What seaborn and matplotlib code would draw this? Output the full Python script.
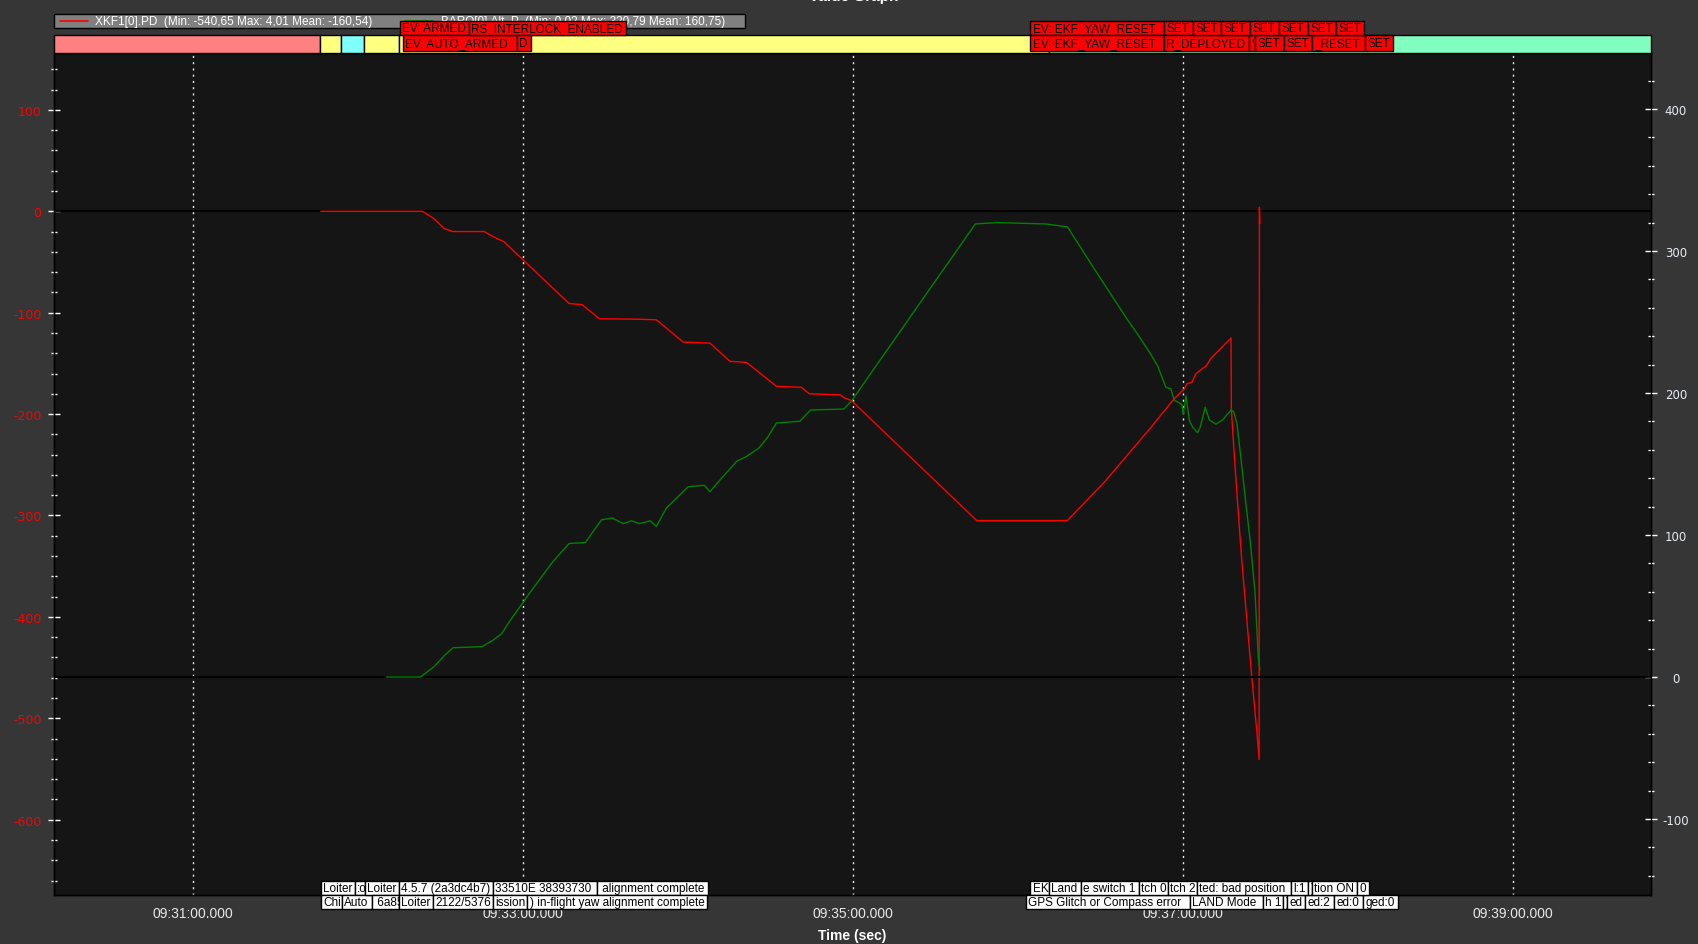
import numpy as np
import pandas as pd
import matplotlib
matplotlib.use("Agg")
import matplotlib.pyplot as plt
import matplotlib.transforms as mtransforms
from matplotlib.patches import Rectangle
from matplotlib.ticker import FixedLocator, MultipleLocator, FuncFormatter
import seaborn as sns

# ---------------- data (time in seconds after 09:30:00) ----------------
red_t = [106.5, 143.5, 147.5, 151.4, 154.6, 166.0, 169.2, 173.1, 196.8, 201.5,
         207.8, 222.5, 228.5, 238.3, 248.0, 255.3, 261.3, 272.2, 281.3, 284.1,
         295.3, 296.7, 299.5, 345.0, 378.0, 391.8, 408.4, 416.8, 420.5, 421.5,
         423.2, 424.7, 426.3, 428.4, 430.2, 437.5, 437.6, 438.1, 439.6, 441.3,
         443.3, 445.0, 446.9, 447.7, 447.8, 448.0]
red_v = [0, 0, -7, -17, -20, -20, -25, -30, -91, -92,
         -106, -106.5, -107, -129, -130, -148, -149, -172.6, -173.6, -180,
         -181, -183.7, -186.8, -305, -305, -266, -213, -185, -175, -170,
         -169, -160.4, -156.7, -152.7, -145, -125, -194, -217, -277, -341,
         -405, -458, -514, -540.6, 4.0, -12]

grn_t = [130.5, 142.7, 147.5, 151.4, 154.6, 165.2, 169.2, 172.3, 175.1, 182.9,
         190.8, 196.8, 202.7, 208.6, 212.5, 216.5, 219.5, 222.4, 226.3, 228.5,
         232.2, 240.1, 246.0, 248.0, 250.7, 257.8, 261.0, 265.7, 269.0, 272.2,
         280.7, 284.6, 296.7, 299.5, 324.4, 344.5, 352.4, 370.2, 378.0, 387.9,
         399.7, 404.0, 408.4, 410.8, 413.8, 415.6, 416.8, 419.6, 420.1, 421.1,
         422.3, 423.5, 425.3, 426.3, 428.1, 429.6, 432.0, 434.4, 437.5, 438.4,
         439.6, 441.1, 442.9, 444.5, 446.2, 447.4, 448.0]
grn_v = [0, 0, 7, 15, 20.6, 21.4, 26, 30.5, 39, 60.3,
         81, 94, 94.7, 110.7, 112, 108, 110, 108, 110, 106,
         119, 134, 135, 130.5, 136.6, 152, 155, 161, 168.8, 178.9,
         180.1, 188, 188.7, 194.4, 263.4, 319, 320, 319, 317, 287,
         252, 240, 227, 219, 204, 203, 195, 192, 185, 198,
         181, 176, 172, 176, 190, 181, 178, 181, 188, 187,
         179, 154, 122, 95, 60, 14, 5]

red_label = "XKF1[0].PD  (Min: -540,65 Max: 4,01 Mean: -160,54)"
grn_label = "BARO[0].Alt_P  (Min: 0,02 Max: 320,79 Mean: 160,75)"

# flight-mode strip
mode_start = [9.5, 106.2, 113.8, 122.2, 134.9, 371.3]
mode_color = ["#ff8080", "#ffff80", "#80ffff", "#ffff80", "#ffff80", "#80ffc0"]

# red event boxes (two rows, two groups)
ev_top1_t = [135.3, 160.4]
ev_top1_l = ["EV: ARMED", "RS_INTERLOCK_ENABLED"]
ev_top2_t = [136.4, 177.8]
ev_top2_l = ["EV: AUTO_ARMED", "D"]
ev_top3_t = [364.4, 413.1, 423.6, 433.8, 444.4, 454.9, 465.5, 475.6]
ev_top3_l = ["EV: EKF_YAW_RESET", "SET", "SET", "SET", "SET", "SET", "SET", "SET"]
ev_top4_t = [364.4, 413.1, 444.0, 446.2, 456.7, 466.9, 486.2]
ev_top4_l = ["EV: EKF_YAW_RESET", "R_DEPLOYED", "'", "SET", "SET", "_RESET", "SET"]

# white message boxes
msg_b1_t = [106.5, 118.9, 122.5, 134.9, 169.1, 206.9]
msg_b1_l = ["Loiter", ":o", "Loiter", "4.5.7 (2a3dc4b7)", "33510E 38393730", " alignment complete"]
msg_b2_t = [106.5, 114.2, 125.1, 134.9, 147.3, 169.1, 181.5]
msg_b2_l = ["Chi", "Auto", " 6a85", "Loiter", "2122/5376", "ission", ") in-flight yaw alignment complete"]
msg_b3_t = [364.4, 371.3, 382.9, 404.0, 414.5, 425.1, 459.3, 465.5, 466.9, 483.3]
msg_b3_l = ["EK", "Land", "e switch 1", "tch 0", "tch 2", "ted: bad position", "l:1", ")", "tion ON", "0"]
msg_b4_t = [362.9, 422.5, 449.1, 456.4, 457.8, 464.4, 474.9, 485.5]
msg_b4_l = ["GPS Glitch or Compass error", "LAND Mode", "h 1", ")", "ed", "ed:2", "ed:0", "ged:0"]

# ---------------- style ----------------
sns.set_style("dark")
plt.rcParams["font.family"] = ["Liberation Sans", "DejaVu Sans"]
plt.rcParams["axes.unicode_minus"] = False

BG = "#363636"
PLOT_BG = "#151515"

fig = plt.figure(figsize=(16.99, 9.45), dpi=100, facecolor=BG)
W, H = 1699, 945
ax = fig.add_axes([54 / W, 49 / H, 1597 / W, 842 / H])
ax.set_facecolor(PLOT_BG)
ax2 = ax.twinx()

df_r = pd.DataFrame({"t": red_t, "v": red_v})
df_g = pd.DataFrame({"t": grn_t, "v": grn_v})
sns.lineplot(data=df_r, x="t", y="v", ax=ax, color="#ff0000", linewidth=1.0,
             estimator=None, sort=False, zorder=3)
sns.lineplot(data=df_g, x="t", y="v", ax=ax2, color="#008000", linewidth=1.0,
             estimator=None, sort=False, zorder=3)

ax.set_xlim(9.5, 590.2)
ax.set_ylim(-674.3, 156.1)
ax2.set_ylim(-153.5, 439.4)
for a in (ax, ax2):
    a.set_xlabel("")
    a.set_ylabel("")
    for s in a.spines.values():
        s.set_color("black")
        s.set_linewidth(1)

ax.axhline(0, color="black", lw=1.3, zorder=2)
ax2.axhline(0, color="black", lw=1.3, zorder=2)


def fmt_time(t, pos=None):
    tot = 9 * 3600 + 30 * 60 + int(round(t))
    return f"{tot // 3600:02d}:{(tot % 3600) // 60:02d}:{tot % 60:02d}.000"


ax.xaxis.set_major_locator(FixedLocator(np.arange(60, 590, 120)))
ax.xaxis.set_minor_locator(MultipleLocator(30))
ax.xaxis.set_major_formatter(FuncFormatter(fmt_time))
ax.yaxis.set_major_locator(MultipleLocator(100))
ax.yaxis.set_minor_locator(MultipleLocator(20))
ax2.yaxis.set_major_locator(MultipleLocator(100))
ax2.yaxis.set_minor_locator(MultipleLocator(20))

ax.tick_params(axis="x", which="major", direction="inout", length=10, width=1,
               color="white", labelcolor="#e8e8e8", labelsize=10, pad=3)
ax.tick_params(axis="x", which="minor", direction="inout", length=5, width=1, color="white")
ax.tick_params(axis="y", which="major", direction="inout", length=8, width=1,
               color="white", labelcolor="#ff0000", labelsize=9, pad=5,
               labelfontfamily="DejaVu Sans")
ax.tick_params(axis="y", which="minor", direction="inout", length=4, width=1, color="white")
ax2.tick_params(axis="y", which="major", direction="inout", length=8, width=1,
                color="white", labelcolor="#e4ecf4", labelsize=8.5, pad=14,
                labelfontfamily="DejaVu Sans")
ax2.tick_params(axis="y", which="minor", direction="inout", length=4, width=1, color="white")
plt.setp(ax2.get_yticklabels(), ha="center")

ax.grid(False)
ax2.grid(False)
ax.xaxis.grid(True, which="major", color="#e8e8e8", linestyle=(0, (1.5, 3)), linewidth=1)

# ---------------- flight-mode strip ----------------
xtr = ax2.get_xaxis_transform()
x_end = ax.get_xlim()[1]
for i, (t0, c) in enumerate(zip(mode_start, mode_color)):
    t1 = mode_start[i + 1] if i + 1 < len(mode_start) else x_end
    ax2.add_patch(Rectangle((t0, 1.0), t1 - t0, 0.0208, transform=xtr, fc=c,
                            ec="black", lw=1, clip_on=False, zorder=10))

# ---------------- legend box ----------------
ax2.add_patch(Rectangle((0.0, 1.0293), 0.4327, 0.017, transform=ax2.transAxes,
                        fc="#808080", ec="black", lw=1, clip_on=False, zorder=12))
ax2.plot([0.0038, 0.0213], [1.038, 1.038], transform=ax2.transAxes, color="#ff0000",
         lw=1.2, clip_on=False, zorder=13)
ax2.text(0.0257, 1.038, red_label, transform=ax2.transAxes, color="white",
         fontsize=8.5, va="center", ha="left", clip_on=False, zorder=13)
ax2.plot([0.2198, 0.2373], [1.038, 1.038], transform=ax2.transAxes, color="#008000",
         lw=1.2, clip_on=False, zorder=13)
ax2.text(0.2423, 1.038, grn_label, transform=ax2.transAxes, color="white",
         fontsize=8.5, va="center", ha="left", clip_on=False, zorder=13)

# ---------------- event / message boxes ----------------
renderer = fig.canvas.get_renderer()
inv = ax2.transData.inverted()
txt_tr = mtransforms.offset_copy(xtr, fig=fig, x=2.5, y=0, units="dots")


def box_row(times, labels, y0, y1, face, fs, z):
    for i, (t0, lab) in enumerate(zip(times, labels)):
        txt = ax2.text(t0, (y0 + y1) / 2, lab, transform=txt_tr, ha="left", va="center",
                       fontsize=fs, color="black", clip_on=False, zorder=z + 2 * i + 1)
        if i + 1 < len(times):
            t1 = times[i + 1]
        else:
            bb = txt.get_window_extent(renderer)
            t1 = inv.transform((bb.x1 + 3, 0))[0]
        ax2.add_patch(Rectangle((t0, y0), t1 - t0, y1 - y0, transform=xtr, fc=face,
                                ec="black", lw=1, clip_on=False, zorder=z + 2 * i))


box_row(ev_top1_t, ev_top1_l, 1.0214, 1.0377, "#ff0000", 8.5, 30)
box_row(ev_top2_t, ev_top2_l, 1.0027, 1.0214, "#ff0000", 8.5, 30)
box_row(ev_top3_t, ev_top3_l, 1.0214, 1.0377, "#ff0000", 8.5, 30)
box_row(ev_top4_t, ev_top4_l, 1.0027, 1.0214, "#ff0000", 8.5, 30)
box_row(msg_b1_t, msg_b1_l, 0.0, 0.0172, "white", 8.5, 60)
box_row(msg_b2_t, msg_b2_l, -0.0172, 0.0, "white", 8.5, 60)
box_row(msg_b3_t, msg_b3_l, 0.0, 0.0172, "white", 8.5, 60)
box_row(msg_b4_t, msg_b4_l, -0.0172, 0.0, "white", 8.5, 60)

# ---------------- titles ----------------
fig.text(854 / W, 1 + 3 / H, "Value Graph", color="white", fontsize=11,
         fontweight="bold", ha="center", va="center")
fig.text(852 / W, (H - 936) / H, "Time (sec)", color="white", fontsize=10,
         fontweight="bold", ha="center", va="center")

fig.savefig("out.png", dpi=100, facecolor=BG)
